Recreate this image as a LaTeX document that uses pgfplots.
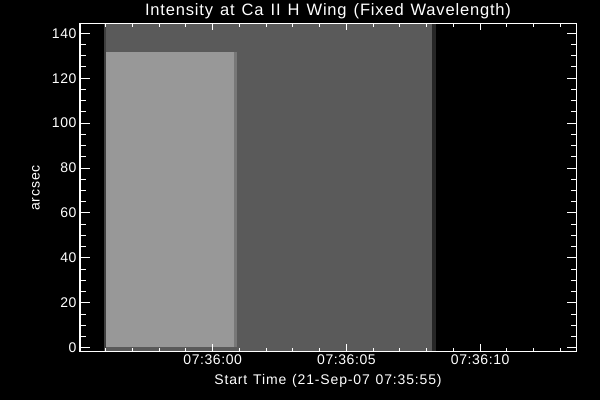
\documentclass[border=0pt]{standalone}
\usepackage{pgfplots}
\pgfplotsset{compat=1.18}
\usepackage{fontspec}
\setmainfont{Liberation Sans}
\newfontfamily\ticksf[LetterSpace=4]{Liberation Sans}
\newfontfamily\titlesf[LetterSpace=5,WordSpace=1.3]{Liberation Sans}
\newfontfamily\labsf[LetterSpace=6,WordSpace=1.25]{Liberation Sans}
\definecolor{dkgray}{RGB}{90,90,90}
\definecolor{ltgray}{RGB}{152,152,152}
\definecolor{edgeL}{RGB}{62,62,62}
\definecolor{edgeR}{RGB}{38,38,38}
\definecolor{edgeM}{RGB}{120,120,120}
\newcommand{\lbl}{\ticksf\fontsize{14}{16}\selectfont}
\begin{document}
\begin{tikzpicture}[x=1pt,y=1pt]
\fill[black] (0,0) rectangle (600,400);
\useasboundingbox (0,0) rectangle (600,400);
\begin{axis}[at={(80pt,49pt)}, anchor=south west, scale only axis,
 width=496.5pt, height=327.7pt,
 xmin=0.04, xmax=18.6, ymin=-1.47, ymax=144.45,
 axis line style={white, line width=1pt},
 xtick={5,10,15}, xticklabels={07:36:00,07:36:05,07:36:10},
 minor xtick={1,2,3,4,6,7,8,9,11,12,13,14,16,17,18},
 ytick=\empty,
 tick style={white, line width=1pt},
 major tick length=7pt, minor tick length=3.5pt,
 tick align=inside,
 xticklabel style={white, font=\lbl},
 axis on top,
]
% dark gray field
\addplot[fill=dkgray, draw=none] coordinates {(0.94,-1.47) (13.34,-1.47) (13.34,144.45) (0.94,144.45)};
% left darker edge
\addplot[fill=edgeL, draw=none] coordinates {(0.94,-1.47) (1.01,-1.47) (1.01,144.45) (0.94,144.45)};
% right darker band
\addplot[fill=edgeR, draw=none] coordinates {(13.18,-1.47) (13.34,-1.47) (13.34,144.45) (13.18,144.45)};
% bright slit block
\addplot[fill=ltgray, draw=none] coordinates {(1.01,0.4) (5.80,0.4) (5.80,131.8) (1.01,131.8)};
% transition strip
\addplot[fill=edgeM, draw=none] coordinates {(5.80,0.4) (5.91,0.4) (5.91,131.8) (5.80,131.8)};
\end{axis}
\begin{axis}[at={(80pt,49pt)}, anchor=south west, scale only axis,
 width=496.5pt, height=327.7pt,
 xmin=0.04, xmax=18.6, ymin=-1.47, ymax=144.45,
 axis line style={white, line width=1pt},
 xtick=\empty,
 ytick={0,20,...,140}, minor y tick num=3,
 tick style={white, line width=1pt},
 major tick length=10pt, minor tick length=5.5pt,
 tick align=inside,
 /pgf/number format/assume math mode=true,
 yticklabel style={white, font=\lbl},
]
\end{axis}
\node[white, font=\titlesf\fontsize{16.5}{18}\selectfont] at (328,388.5) {Intensity at Ca II H Wing (Fixed Wavelength)};
\node[white, font=\labsf\fontsize{14}{16}\selectfont] at (328,19) {Start Time (21-Sep-07 07:35:55)};
\node[white, font=\labsf\fontsize{14}{16}\selectfont, rotate=90] at (36,212) {arcsec};
\end{tikzpicture}
\end{document}
